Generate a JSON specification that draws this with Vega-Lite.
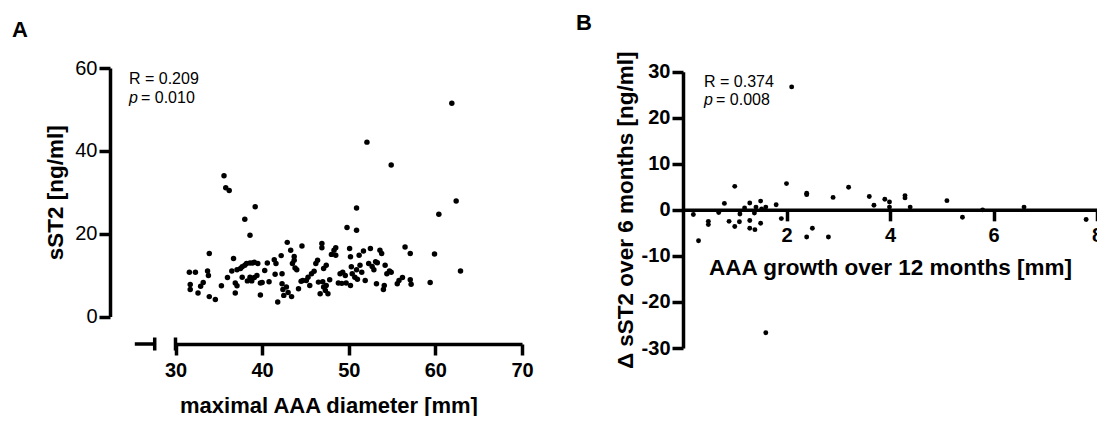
{
  "$schema": "https://vega.github.io/schema/vega-lite/v6.json",
  "padding": {"left": 12, "top": 12, "right": 0, "bottom": 0},
  "background": "white",
  "spacing": 42,
  "config": {
    "font": "Liberation Sans",
    "view": {"stroke": null},
    "axis": {
      "grid": false,
      "domainColor": "black",
      "tickColor": "black",
      "labelColor": "black",
      "titleColor": "black",
      "domainWidth": 3.5,
      "tickWidth": 3.5,
      "tickSize": 11,
      "labelFlush": false,
      "labelBound": false,
      "labelOverlap": false
    }
  },
  "datasets": {
    "a": [
      {"diameter": 61.9, "sst2": 51.5}, {"diameter": 52.1, "sst2": 42.1}, {"diameter": 54.9, "sst2": 36.6},
      {"diameter": 35.6, "sst2": 34.0}, {"diameter": 35.8, "sst2": 31.1}, {"diameter": 36.2, "sst2": 30.4},
      {"diameter": 39.2, "sst2": 26.5}, {"diameter": 62.4, "sst2": 27.9}, {"diameter": 50.9, "sst2": 26.2},
      {"diameter": 60.4, "sst2": 24.7}, {"diameter": 38.0, "sst2": 23.5}, {"diameter": 49.8, "sst2": 21.5},
      {"diameter": 50.9, "sst2": 20.8}, {"diameter": 38.6, "sst2": 19.6}, {"diameter": 62.9, "sst2": 11.0},
      {"diameter": 59.9, "sst2": 15.1}, {"diameter": 59.4, "sst2": 8.2},
      {"diameter": 31.6, "sst2": 10.7}, {"diameter": 32.3, "sst2": 10.7}, {"diameter": 31.7, "sst2": 7.7},
      {"diameter": 31.7, "sst2": 6.5}, {"diameter": 32.6, "sst2": 5.7}, {"diameter": 32.9, "sst2": 7.3},
      {"diameter": 33.2, "sst2": 8.2}, {"diameter": 33.7, "sst2": 11.0}, {"diameter": 33.8, "sst2": 9.9},
      {"diameter": 33.9, "sst2": 15.2}, {"diameter": 33.9, "sst2": 4.8}, {"diameter": 34.6, "sst2": 4.1},
      {"diameter": 35.3, "sst2": 7.4}, {"diameter": 36.0, "sst2": 9.4}, {"diameter": 36.7, "sst2": 14.0},
      {"diameter": 36.9, "sst2": 8.1}, {"diameter": 36.9, "sst2": 5.7}, {"diameter": 37.1, "sst2": 7.4},
      {"diameter": 37.1, "sst2": 11.3}, {"diameter": 37.5, "sst2": 11.6}, {"diameter": 37.7, "sst2": 12.0},
      {"diameter": 38.0, "sst2": 12.4}, {"diameter": 38.2, "sst2": 12.8}, {"diameter": 38.6, "sst2": 12.9},
      {"diameter": 38.9, "sst2": 12.9}, {"diameter": 39.1, "sst2": 13.1}, {"diameter": 39.5, "sst2": 12.8},
      {"diameter": 38.6, "sst2": 9.5}, {"diameter": 37.7, "sst2": 9.5}, {"diameter": 38.3, "sst2": 8.6},
      {"diameter": 39.1, "sst2": 9.4}, {"diameter": 39.4, "sst2": 9.9}, {"diameter": 39.8, "sst2": 8.1},
      {"diameter": 39.8, "sst2": 5.2}, {"diameter": 40.3, "sst2": 11.1}, {"diameter": 40.8, "sst2": 8.4},
      {"diameter": 40.6, "sst2": 12.9}, {"diameter": 41.4, "sst2": 13.7}, {"diameter": 41.6, "sst2": 12.8},
      {"diameter": 41.5, "sst2": 10.2}, {"diameter": 41.8, "sst2": 3.5}, {"diameter": 42.2, "sst2": 14.7},
      {"diameter": 42.3, "sst2": 10.3}, {"diameter": 42.3, "sst2": 7.9}, {"diameter": 42.4, "sst2": 6.5},
      {"diameter": 42.5, "sst2": 5.1}, {"diameter": 42.8, "sst2": 7.1}, {"diameter": 42.9, "sst2": 17.9},
      {"diameter": 43.3, "sst2": 16.0}, {"diameter": 43.4, "sst2": 4.8}, {"diameter": 43.5, "sst2": 12.8},
      {"diameter": 43.7, "sst2": 14.5}, {"diameter": 43.7, "sst2": 13.6}, {"diameter": 43.8, "sst2": 11.7},
      {"diameter": 44.0, "sst2": 11.3}, {"diameter": 44.2, "sst2": 6.7}, {"diameter": 44.6, "sst2": 17.0},
      {"diameter": 44.7, "sst2": 8.7}, {"diameter": 45.1, "sst2": 8.7}, {"diameter": 45.3, "sst2": 9.5},
      {"diameter": 45.5, "sst2": 7.5}, {"diameter": 45.7, "sst2": 10.3}, {"diameter": 46.0, "sst2": 10.9},
      {"diameter": 46.2, "sst2": 12.8}, {"diameter": 46.4, "sst2": 13.6}, {"diameter": 46.5, "sst2": 8.3},
      {"diameter": 46.7, "sst2": 5.5}, {"diameter": 46.9, "sst2": 17.6}, {"diameter": 46.9, "sst2": 16.6},
      {"diameter": 47.1, "sst2": 11.6}, {"diameter": 47.1, "sst2": 7.1}, {"diameter": 47.3, "sst2": 6.3},
      {"diameter": 47.4, "sst2": 7.5}, {"diameter": 47.4, "sst2": 12.4}, {"diameter": 47.6, "sst2": 5.5},
      {"diameter": 47.8, "sst2": 8.9}, {"diameter": 48.0, "sst2": 15.0}, {"diameter": 48.3, "sst2": 16.0},
      {"diameter": 48.5, "sst2": 16.6}, {"diameter": 48.5, "sst2": 14.8}, {"diameter": 48.8, "sst2": 8.1},
      {"diameter": 49.0, "sst2": 10.3}, {"diameter": 49.3, "sst2": 10.7}, {"diameter": 49.6, "sst2": 9.9},
      {"diameter": 49.7, "sst2": 8.1}, {"diameter": 50.1, "sst2": 16.4}, {"diameter": 50.2, "sst2": 14.4},
      {"diameter": 50.2, "sst2": 7.5}, {"diameter": 50.3, "sst2": 12.0}, {"diameter": 50.4, "sst2": 10.3},
      {"diameter": 50.7, "sst2": 9.5}, {"diameter": 50.9, "sst2": 11.3}, {"diameter": 51.2, "sst2": 14.8},
      {"diameter": 51.3, "sst2": 12.4}, {"diameter": 51.5, "sst2": 10.7}, {"diameter": 51.7, "sst2": 15.8},
      {"diameter": 51.9, "sst2": 8.7}, {"diameter": 52.3, "sst2": 12.8}, {"diameter": 52.5, "sst2": 16.4},
      {"diameter": 52.7, "sst2": 12.1}, {"diameter": 52.9, "sst2": 11.3}, {"diameter": 53.1, "sst2": 13.2},
      {"diameter": 53.2, "sst2": 7.9}, {"diameter": 53.6, "sst2": 16.0}, {"diameter": 53.8, "sst2": 15.2},
      {"diameter": 54.0, "sst2": 6.5}, {"diameter": 54.1, "sst2": 7.5}, {"diameter": 54.2, "sst2": 12.4},
      {"diameter": 54.4, "sst2": 10.3}, {"diameter": 54.7, "sst2": 11.0}, {"diameter": 54.9, "sst2": 10.7},
      {"diameter": 55.6, "sst2": 7.9}, {"diameter": 55.8, "sst2": 8.7}, {"diameter": 56.2, "sst2": 9.4},
      {"diameter": 56.5, "sst2": 16.8}, {"diameter": 57.1, "sst2": 15.2}, {"diameter": 57.1, "sst2": 8.9},
      {"diameter": 57.2, "sst2": 7.8}, {"diameter": 38.8, "sst2": 8.6}, {"diameter": 40.0, "sst2": 8.2},
      {"diameter": 44.5, "sst2": 8.5}, {"diameter": 49.2, "sst2": 8.0}, {"diameter": 51.0, "sst2": 9.0},
      {"diameter": 43.0, "sst2": 5.8}, {"diameter": 47.0, "sst2": 8.4}, {"diameter": 53.3, "sst2": 13.0},
      {"diameter": 36.5, "sst2": 11.0}
    ],
    "b": [
      {"growth": 0.20, "dsst2": -1.0}, {"growth": 0.30, "dsst2": -6.7}, {"growth": 0.49, "dsst2": -2.5},
      {"growth": 0.49, "dsst2": -3.2}, {"growth": 0.69, "dsst2": -0.6}, {"growth": 0.80, "dsst2": 1.4},
      {"growth": 0.89, "dsst2": -2.5}, {"growth": 1.00, "dsst2": 5.1}, {"growth": 1.00, "dsst2": -3.6},
      {"growth": 1.09, "dsst2": -2.6}, {"growth": 1.10, "dsst2": -0.9}, {"growth": 1.19, "dsst2": 0.4},
      {"growth": 1.29, "dsst2": 1.5}, {"growth": 1.29, "dsst2": -2.3}, {"growth": 1.29, "dsst2": -4.0},
      {"growth": 1.38, "dsst2": -0.7}, {"growth": 1.39, "dsst2": -4.3}, {"growth": 1.41, "dsst2": 0.6},
      {"growth": 1.50, "dsst2": 1.9}, {"growth": 1.50, "dsst2": -2.9}, {"growth": 1.52, "dsst2": 0.2},
      {"growth": 1.60, "dsst2": 0.6}, {"growth": 1.60, "dsst2": -26.7}, {"growth": 1.80, "dsst2": 1.1},
      {"growth": 1.90, "dsst2": -1.9}, {"growth": 2.00, "dsst2": 5.7}, {"growth": 2.10, "dsst2": 26.7},
      {"growth": 2.39, "dsst2": 3.6}, {"growth": 2.39, "dsst2": 3.3}, {"growth": 2.39, "dsst2": -5.9},
      {"growth": 2.50, "dsst2": -4.0}, {"growth": 2.81, "dsst2": -5.9}, {"growth": 2.90, "dsst2": 2.7},
      {"growth": 3.20, "dsst2": 4.9}, {"growth": 3.60, "dsst2": 2.9}, {"growth": 3.69, "dsst2": 1.0},
      {"growth": 3.90, "dsst2": 2.3}, {"growth": 3.99, "dsst2": 1.7}, {"growth": 3.99, "dsst2": 0.6},
      {"growth": 4.29, "dsst2": 3.1}, {"growth": 4.29, "dsst2": 2.6}, {"growth": 4.39, "dsst2": 0.6},
      {"growth": 5.10, "dsst2": 2.0}, {"growth": 5.40, "dsst2": -1.6}, {"growth": 5.79, "dsst2": 0.0},
      {"growth": 6.59, "dsst2": 0.6}, {"growth": 7.79, "dsst2": -2.1}
    ]
  },
  "hconcat": [
    {
      "width": 412,
      "height": 248.5,
      "title": {"text": "A", "anchor": "start", "frame": "group", "dx": -98, "fontSize": 22, "fontWeight": "bold", "offset": 16, "color": "black"},
      "layer": [
        {
          "data": {"name": "a"},
          "mark": {"type": "circle", "size": 30, "opacity": 1, "color": "black"},
          "encoding": {
            "x": {
              "field": "diameter", "type": "quantitative",
              "scale": {"domain": [30, 70], "range": [65.5, 412], "nice": false, "zero": false},
              "axis": {"values": [30, 40, 50, 60, 70], "offset": 27.5, "title": "maximal AAA diameter [mm]", "titleFontSize": 22, "titleFontWeight": "bold", "labelFontSize": 20, "labelFontWeight": "bold", "labelPadding": 5, "titlePadding": 15, "titleX": 218.5}
            },
            "y": {
              "field": "sst2", "type": "quantitative",
              "scale": {"domain": [0, 60], "nice": false},
              "axis": {"values": [0, 20, 40, 60], "title": "sST2 [ng/ml]", "titleFontSize": 22.5, "titleFontWeight": "bold", "labelFontSize": 20, "labelFontWeight": "normal", "labelPadding": 2, "titlePadding": 7}
            }
          }
        },
        {
          "data": {"values": [{}]},
          "mark": {"type": "rule", "strokeWidth": 3.5, "color": "black"},
          "encoding": {"x": {"datum": 25.3}, "x2": {"datum": 27.6}, "y": {"datum": -6.64}}
        },
        {
          "data": {"values": [{}]},
          "mark": {"type": "rule", "strokeWidth": 3.5, "color": "black"},
          "encoding": {"x": {"datum": 27.6}, "y": {"datum": -5.07}, "y2": {"datum": -8.21}}
        },
        {
          "data": {"values": [{}]},
          "mark": {"type": "rule", "strokeWidth": 3.5, "color": "black"},
          "encoding": {"x": {"datum": 30}, "y": {"datum": -5.07}, "y2": {"datum": -8.21}}
        },
        {
          "data": {"values": [{}]},
          "mark": {"type": "text", "text": "R = 0.209", "align": "left", "baseline": "middle", "fontSize": 16, "color": "black"},
          "encoding": {"x": {"datum": 24.63}, "y": {"datum": 57.34}}
        },
        {
          "data": {"values": [{}]},
          "mark": {"type": "text", "text": "p", "align": "left", "baseline": "middle", "fontSize": 16, "fontStyle": "italic", "color": "black"},
          "encoding": {"x": {"datum": 24.63}, "y": {"datum": 52.83}}
        },
        {
          "data": {"values": [{}]},
          "mark": {"type": "text", "text": "= 0.010", "align": "left", "baseline": "middle", "fontSize": 16, "dx": 12, "color": "black"},
          "encoding": {"x": {"datum": 24.63}, "y": {"datum": 52.83}}
        }
      ]
    },
    {
      "width": 414,
      "height": 280,
      "title": {"text": "B", "anchor": "start", "frame": "group", "dx": -107, "fontSize": 22, "fontWeight": "bold", "offset": 16, "color": "black"},
      "layer": [
        {
          "data": {"name": "b"},
          "mark": {"type": "circle", "size": 24, "opacity": 1, "color": "black"},
          "encoding": {
            "x": {
              "field": "growth", "type": "quantitative",
              "scale": {"domain": [0, 8], "nice": false},
              "axis": {"values": [2, 4, 6, 8], "offset": -138.15, "title": "AAA growth over 12 months [mm]", "titleFontSize": 22.5, "titleFontWeight": "bold", "labelFontSize": 20, "labelFontWeight": "bold", "labelPadding": 5, "titlePadding": 11}
            },
            "y": {
              "field": "dsst2", "type": "quantitative",
              "scale": {"domain": [-30, 30], "range": [280, 3.7], "nice": false},
              "axis": {"values": [-30, -20, -10, 0, 10, 20, 30], "labelExpr": "datum.value < 0 ? '-' + abs(datum.value) : '' + datum.value", "title": "Δ sST2 over 6 months [ng/ml]", "titleFontSize": 22.5, "titleFontWeight": "bold", "labelFontSize": 20, "labelFontWeight": "bold", "labelPadding": 2, "titlePadding": 4}
            }
          }
        },
        {
          "data": {"values": [{}]},
          "mark": {"type": "text", "text": "R = 0.374", "align": "left", "baseline": "middle", "fontSize": 16, "color": "black"},
          "encoding": {"x": {"datum": 0.406}, "y": {"datum": 27.76}}
        },
        {
          "data": {"values": [{}]},
          "mark": {"type": "text", "text": "p", "align": "left", "baseline": "middle", "fontSize": 16, "fontStyle": "italic", "color": "black"},
          "encoding": {"x": {"datum": 0.406}, "y": {"datum": 23.85}}
        },
        {
          "data": {"values": [{}]},
          "mark": {"type": "text", "text": "= 0.008", "align": "left", "baseline": "middle", "fontSize": 16, "dx": 12, "color": "black"},
          "encoding": {"x": {"datum": 0.406}, "y": {"datum": 23.85}}
        }
      ]
    }
  ]
}
